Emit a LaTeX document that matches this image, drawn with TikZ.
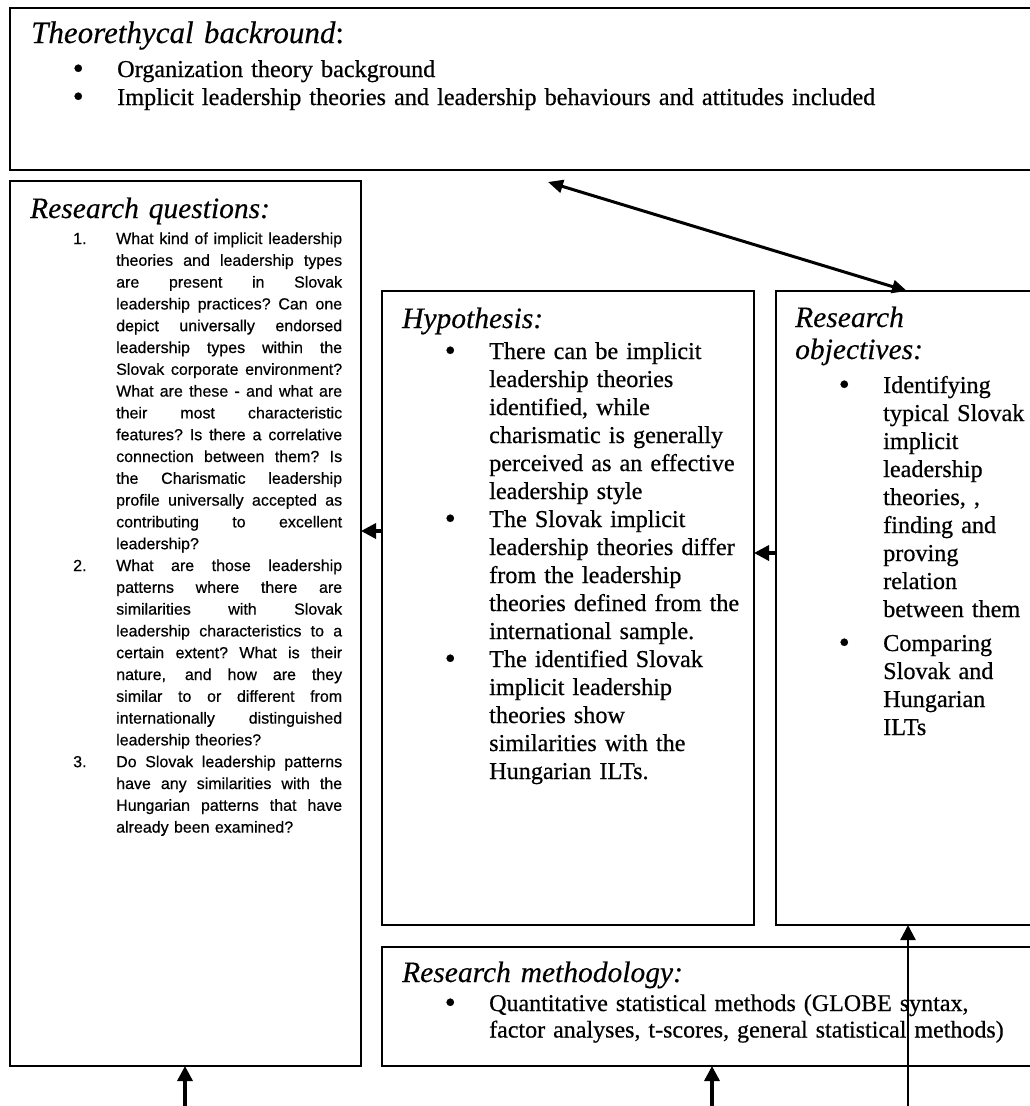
\documentclass[tikz,border=0pt]{standalone}
\usepackage{fontspec}
\setmainfont{Liberation Serif}[UprightFeatures={FakeBold=0.6},ItalicFeatures={FakeBold=0.3}]
\newfontfamily\arialf{Liberation Sans}[FakeBold=0.5]
\usetikzlibrary{arrows.meta}
\newcommand{\jl}[1]{\leavevmode\hbox to 226pt{\spaceskip=0.25em plus 1fil\xspaceskip=\spaceskip #1}}
\newcommand{\bl}{\leavevmode\llap{\raisebox{-1.5pt}{\fontsize{31}{31}\selectfont\textbullet}\hspace{33.5pt}}}
\newcommand{\numl}[1]{\leavevmode\llap{\makebox[43pt][l]{#1}}}
\begin{document}
\begin{tikzpicture}[x=1pt,y=-1pt,
  box/.style={draw, line width=1.4pt, inner sep=0pt, outer sep=0pt, anchor=north west},
  ttl/.style={anchor=base west, inner sep=0pt, align=left, text width=600pt, font=\fontsize{29.5}{32}\selectfont\itshape},
  body/.style={anchor=base west, inner sep=0pt, align=left, text width=560pt, font=\fontsize{24.2}{28}\selectfont},
  qbody/.style={anchor=base west, inner sep=0pt, align=left, text width=226pt, font=\arialf\fontsize{16}{21.8}\selectfont},
  arr/.style={line width=3.4pt, -{Triangle[length=15pt,width=15pt]}},
  arrthin/.style={line width=2.4pt, -{Triangle[length=15pt,width=15pt]}},
  darr/.style={line width=3pt, {Triangle[length=15pt,width=13pt]}-{Triangle[length=15pt,width=13pt]}}
]
\clip (0,0) rectangle (1030,1106);
\fill[white] (0,0) rectangle (1030,1106);

% boxes
\node[box, minimum width=1040pt, minimum height=162pt] (top) at (10,8) {};
\node[box, minimum width=351pt, minimum height=885pt] (rq) at (10,181) {};
\node[box, minimum width=372pt, minimum height=634pt] (hyp) at (382,291) {};
\node[box, minimum width=270pt, minimum height=634pt] (obj) at (776,291) {};
\node[box, minimum width=670pt, minimum height=119pt] (meth) at (382,947) {};

% top box
\node[ttl, font=\fontsize{31}{34}\selectfont\itshape] (toptitle) at (31,43) {Theorethycal backround\upshape:};
\node[body, text width=900pt] (toplist) at (117,77) {\bl Organization theory background\\
\bl Implicit leadership theories and leadership behaviours and attitudes included};

% research questions
\node[ttl] (rqtitle) at (30,218) {Research questions:};
\node[qbody] (rqtext) at (116,244) {%
\numl{1.}\jl{What kind of implicit leadership}\\
\jl{theories and leadership types}\\
\jl{are present in Slovak}\\
\jl{leadership practices? Can one}\\
\jl{depict universally endorsed}\\
\jl{leadership types within the}\\
\jl{Slovak corporate environment?}\\
\jl{What are these - and what are}\\
\jl{their most characteristic}\\
\jl{features? Is there a correlative}\\
\jl{connection between them? Is}\\
\jl{the Charismatic leadership}\\
\jl{profile universally accepted as}\\
\jl{contributing to excellent}\\
leadership?\\
\numl{2.}\jl{What are those leadership}\\
\jl{patterns where there are}\\
\jl{similarities with Slovak}\\
\jl{leadership characteristics to a}\\
\jl{certain extent? What is their}\\
\jl{nature, and how are they}\\
\jl{similar to or different from}\\
\jl{internationally distinguished}\\
leadership theories?\\
\numl{3.}\jl{Do Slovak leadership patterns}\\
\jl{have any similarities with the}\\
\jl{Hungarian patterns that have}\\
already been examined?};

% hypothesis
\node[ttl] (hyptitle) at (402,328) {Hypothesis:};
\node[body, text width=260pt] (hyptext) at (489,359) {%
\bl There can be implicit\\
leadership theories\\
identified, while\\
charismatic is generally\\
perceived as an effective\\
leadership style\\
\bl The Slovak implicit\\
leadership theories differ\\
from the leadership\\
theories defined from the\\
international sample.\\
\bl The identified Slovak\\
implicit leadership\\
theories show\\
similarities with the\\
Hungarian ILTs.};

% objectives
\node[ttl, text width=200pt] (objtitle) at (795,327) {Research\\objectives:};
\node[body, text width=160pt] (objtext) at (883,393) {%
\bl Identifying\\
typical Slovak\\
implicit\\
leadership\\
theories, ,\\
finding and\\
proving\\
relation\\
between them\\[6pt]
\bl Comparing\\
Slovak and\\
Hungarian\\
ILTs};

% methodology
\node[ttl] (methtitle) at (402,982) {Research methodology:};
\node[body, font=\fontsize{24}{26.5}\selectfont] (methtext) at (489,1011) {%
\bl Quantitative statistical methods (GLOBE syntax,\\
factor analyses, t-scores, general statistical methods)};

% connectors
\coordinate (dA) at (548,182);
\coordinate (dB) at (907,291);
\draw[darr] (dA) -- (dB);

\coordinate (h1) at (382,531);
\draw[arr] (h1) -- (h1 -| rq.east);
\coordinate (o1) at (776,553);
\draw[arr] (o1) -- (o1 -| hyp.east);

\coordinate (b1) at (185,1112);
\draw[arr] (b1) -- (b1 |- rq.south);
\coordinate (b2) at (712,1112);
\draw[arr] (b2) -- (b2 |- meth.south);
\coordinate (b3) at (908,1112);
\draw[arrthin] (b3) -- (b3 |- obj.south);
\end{tikzpicture}
\end{document}
